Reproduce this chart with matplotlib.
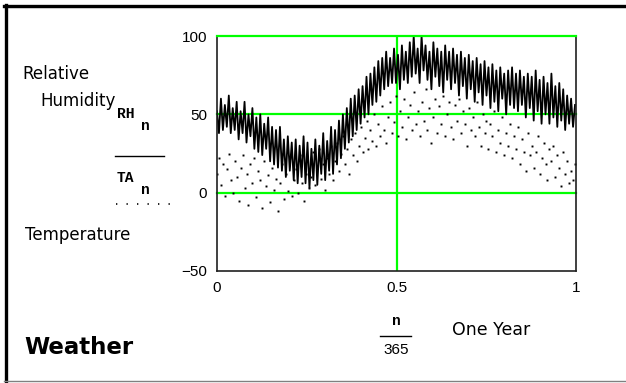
#!/usr/bin/env python3
"""
Weather: relative humidity and temperature over one year (Mathcad style plot)
"""

import numpy as np
import matplotlib
matplotlib.use("Agg")
import matplotlib.pyplot as plt
from matplotlib.lines import Line2D

# Relative humidity, every 2nd day of the year
rh = [
    52, 38, 60, 40, 56, 42, 62, 38, 54, 40,
    58, 34, 52, 38, 58, 32, 50, 36, 54, 28,
    48, 26, 50, 24, 44, 28, 48, 20, 42, 18,
    40, 16, 42, 14, 34, 10, 36, 14, 32, 8,
    34, 6, 30, 10, 36, 6, 32, 3, 28, 8,
    34, 5, 30, 12, 38, 8, 33, 14, 42, 12,
    40, 18, 46, 22, 50, 28, 54, 32, 60, 36,
    62, 40, 66, 44, 68, 48, 74, 50, 76, 56,
    80, 58, 84, 62, 86, 66, 90, 68, 86, 70,
    92, 70, 88, 66, 94, 72, 90, 70, 96, 74,
    100, 76, 92, 70, 100, 78, 94, 72, 90, 66,
    96, 74, 92, 68, 90, 64, 94, 72, 90, 66,
    92, 70, 88, 62, 90, 68, 86, 60, 88, 66,
    84, 58, 86, 64, 82, 56, 84, 62, 80, 54,
    82, 58, 78, 52, 80, 60, 76, 50, 78, 56,
    80, 54, 76, 52, 78, 56, 74, 48, 76, 54,
    74, 46, 78, 52, 72, 44, 74, 50, 70, 44,
    76, 48, 68, 42, 70, 46, 66, 40, 62, 44,
    60, 42, 56,
]

# Air temperature, same days
ta = [
    12, 22, 5, 18, -2, 15, 25, 8, 0, 20,
    10, -5, 16, 24, 3, 12, -8, 18, 6, 22,
    -3, 14, 8, -10, 20, 4, 11, -6, 16, 2,
    9, -12, 6, 18, -4, 12, 1, 22, -2, 8,
    15, 0, 24, 6, -5, 12, 20, 3, 10, 26,
    5, 16, 28, 9, 18, 2, 22, 12, 30, 8,
    20, 32, 14, 25, 36, 18, 28, 12, 34, 24,
    38, 20, 30, 42, 26, 35, 46, 28, 40, 33,
    50, 30, 44, 36, 55, 40, 32, 48, 58, 38,
    45, 62, 36, 52, 42, 60, 34, 48, 56, 40,
    64, 44, 52, 36, 58, 46, 66, 40, 54, 32,
    48, 60, 38, 55, 44, 62, 36, 50, 58, 42,
    34, 56, 46, 60, 38, 52, 44, 30, 54, 40,
    48, 36, 58, 42, 30, 50, 38, 46, 28, 44,
    36, 52, 26, 40, 32, 48, 24, 38, 30, 44,
    22, 36, 28, 42, 18, 34, 26, 14, 38, 24,
    30, 16, 26, 36, 12, 22, 32, 18, 8, 28,
    20, 30, 10, 24, 16, 4, 26, 12, 20, 6,
    14, 8, 18,
]

y_ticks = [-50, 0, 50, 100]
x_ticks = [0, 0.5, 1]
x_tick_labels = ['0', '0.5', '1']
grid_y = [0, 50, 100]
grid_x = [0.5]

n = np.arange(0, 365, 2)
frac = n / 365.0

GREEN = '#00ff00'
W, H = 626, 383

fig = plt.figure(figsize=(W / 100, H / 100), dpi=100)


def px(x, y):
    """pixel coords -> figure coords"""
    return x / W, 1 - y / H


# outer frame of the Mathcad region
fig.add_artist(Line2D([px(4, 0)[0], 1], [px(0, 5.5)[1]] * 2, color='black', lw=2.4))
fig.add_artist(Line2D([px(4, 0)[0], 1], [px(0, 7.5)[1]] * 2, color='#c8c8c8', lw=0.6))
fig.add_artist(Line2D([px(5.5, 0)[0]] * 2, [px(0, 4.5)[1], px(0, 381)[1]], color='black', lw=2.4))
fig.add_artist(Line2D([px(4, 0)[0], 1], [px(0, 381)[1]] * 2, color='#808080', lw=1.0))

l, t = px(217, 36)
r, b = px(576, 271)
ax = fig.add_axes([l, b, r - l, t - b])

for gy in grid_y:
    ax.axhline(gy, color=GREEN, lw=1.6, zorder=1 if gy < 100 else 3, clip_on=False)
for gx in grid_x:
    ax.axvline(gx, color=GREEN, lw=1.6, zorder=1)

ax.plot(frac, rh, color='black', lw=1.3, zorder=2)
ax.plot(frac, ta, linestyle='none', marker='s', ms=1.4, mew=0, color='black', zorder=2)

ax.set_xlim(0, 1)
ax.set_ylim(-50, 100)
ax.set_yticks(y_ticks)
ax.set_xticks(x_ticks)
ax.set_xticklabels(x_tick_labels)
ax.tick_params(length=0, labelsize=11, pad=7)
for lab in ax.get_xticklabels() + ax.get_yticklabels():
    lab.set_family('Liberation Sans')
for s in ax.spines.values():
    s.set_linewidth(1.2)
    s.set_color('#202020')

# left side labels
lbl = dict(family='DejaVu Sans', fontsize=12, color='black', va='center', ha='left')
fig.text(*px(22, 74), 'Relative', **lbl)
fig.text(*px(40, 101), 'Humidity', **lbl)
fig.text(*px(25, 235), 'Temperature', **lbl)
fig.text(*px(24, 347), 'Weather', family='DejaVu Sans', fontsize=16.5,
         fontweight='bold', va='center', ha='left')

mono = dict(family='Liberation Mono', fontsize=10.5, fontweight='bold', va='center', ha='left')
fig.text(*px(117, 114), 'RH', **mono)
fig.text(*px(141, 126), 'n', **mono)
fig.text(*px(117, 178), 'TA', **mono)
fig.text(*px(141, 190), 'n', **mono)
fig.add_artist(Line2D([px(115, 0)[0], px(164, 0)[0]], [px(0, 156)[1]] * 2, color='black', lw=1.0))
fig.add_artist(Line2D([px(116, 0)[0], px(172, 0)[0]], [px(0, 204)[1]] * 2, color='black',
                      lw=1.2, linestyle=(0, (0.8, 5.5))))

# x axis label
fig.text(*px(396, 321), 'n', family='Liberation Mono', fontsize=10.5, fontweight='bold',
         va='center', ha='center')
fig.add_artist(Line2D([px(380, 0)[0], px(411, 0)[0]], [px(0, 336)[1]] * 2, color='black', lw=1.0))
fig.text(*px(396, 350), '365', family='Liberation Sans', fontsize=11, va='center', ha='center')
fig.text(*px(452, 330), 'One Year', family='DejaVu Sans', fontsize=12.5, va='center', ha='left')

fig.savefig('out.png', dpi=100)
